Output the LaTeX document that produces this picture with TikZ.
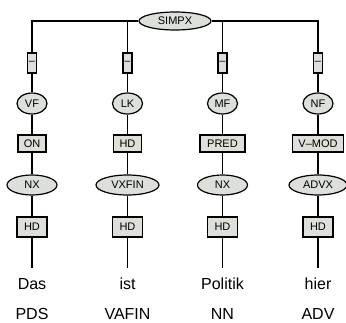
\documentclass[tikz,border=0pt]{standalone}
\usepackage{fontspec}
\setmainfont{Liberation Sans}
\usetikzlibrary{shapes.geometric}
\definecolor{nodefill}{RGB}{220,223,218}
\tikzset{
  x=1pt, y=-1pt,
  edge/.style={draw=black, line width=1.3pt},
  catnode/.style={ellipse, draw=black, line width=1.2pt, fill=nodefill, inner sep=0pt, font=\fontsize{11}{13}\selectfont},
  labnode/.style={rectangle, draw=black, line width=1.2pt, fill=nodefill, inner sep=0pt, font=\fontsize{11}{13}\selectfont},
  dashbox/.style={labnode, minimum width=9pt, minimum height=20pt},
  funcbox/.style={labnode, minimum height=17pt},
  hdbox/.style={labnode, minimum width=30pt, minimum height=20pt},
  wordnode/.style={inner sep=0pt, anchor=base, font=\fontsize{16}{19}\selectfont},
}
\begin{document}
\begin{tikzpicture}
\useasboundingbox (0,0) rectangle (346,322);
% top node
\node[catnode, minimum width=72pt, minimum height=18pt] (simpx) at (175,21) {SIMPX};
% column 1
\node[dashbox] (d1) at (32,63) {--};
\node[catnode, minimum width=30pt, minimum height=21pt] (vf) at (32,103.5) {VF};
\node[funcbox, minimum width=28pt] (on) at (32,143.5) {ON};
\node[catnode, minimum width=50pt, minimum height=20pt] (nx1) at (32,185) {NX};
\node[hdbox] (hd1) at (32,227) {HD};
\coordinate (e1) at (32,268);
\node[wordnode] (w1) at (32,289) {Das};
\node[wordnode] (p1) at (32,319) {PDS};
% column 2
\node[dashbox] (d2) at (127.5,63) {--};
\node[catnode, minimum width=30pt, minimum height=21pt] (lk) at (127.5,103.5) {LK};
\node[funcbox, minimum width=28pt] (hdlk) at (127.5,143.5) {HD};
\node[catnode, minimum width=63pt, minimum height=20pt] (vxfin) at (127.5,185) {VXFIN};
\node[hdbox] (hd2) at (127.5,227) {HD};
\coordinate (e2) at (127.5,268);
\node[wordnode] (w2) at (127.5,289) {ist};
\node[wordnode] (p2) at (127.5,319) {VAFIN};
% column 3
\node[dashbox] (d3) at (222.5,63) {--};
\node[catnode, minimum width=30pt, minimum height=21pt] (mf) at (222.5,103.5) {MF};
\node[funcbox, minimum width=45pt] (pred) at (222.5,143.5) {PRED};
\node[catnode, minimum width=50pt, minimum height=20pt] (nx2) at (222.5,185) {NX};
\node[hdbox] (hd3) at (222.5,227) {HD};
\coordinate (e3) at (222.5,268);
\node[wordnode] (w3) at (222.5,289) {Politik};
\node[wordnode] (p3) at (222.5,319) {NN};
% column 4
\node[dashbox] (d4) at (318,63) {--};
\node[catnode, minimum width=30pt, minimum height=21pt] (nf) at (318,103.5) {NF};
\node[funcbox, minimum width=51pt] (vmod) at (318,143.5) {V--MOD};
\node[catnode, minimum width=58pt, minimum height=20pt] (advx) at (318,185) {ADVX};
\node[hdbox] (hd4) at (318,227) {HD};
\coordinate (e4) at (318,268);
\node[wordnode] (w4) at (318,289) {hier};
\node[wordnode] (p4) at (318,319) {ADV};
% connectors
\draw[edge] (simpx.west) -| (d1.north);
\draw[edge] (simpx.west) -| (d2.north);
\draw[edge] (simpx.east) -| (d3.north);
\draw[edge] (simpx.east) -| (d4.north);
\draw[edge] (d1) -- (vf) -- (on) -- (nx1) -- (hd1) -- (e1);
\draw[edge] (d2) -- (lk) -- (hdlk) -- (vxfin) -- (hd2) -- (e2);
\draw[edge] (d3) -- (mf) -- (pred) -- (nx2) -- (hd3) -- (e3);
\draw[edge] (d4) -- (nf) -- (vmod) -- (advx) -- (hd4) -- (e4);
\end{tikzpicture}
\end{document}
